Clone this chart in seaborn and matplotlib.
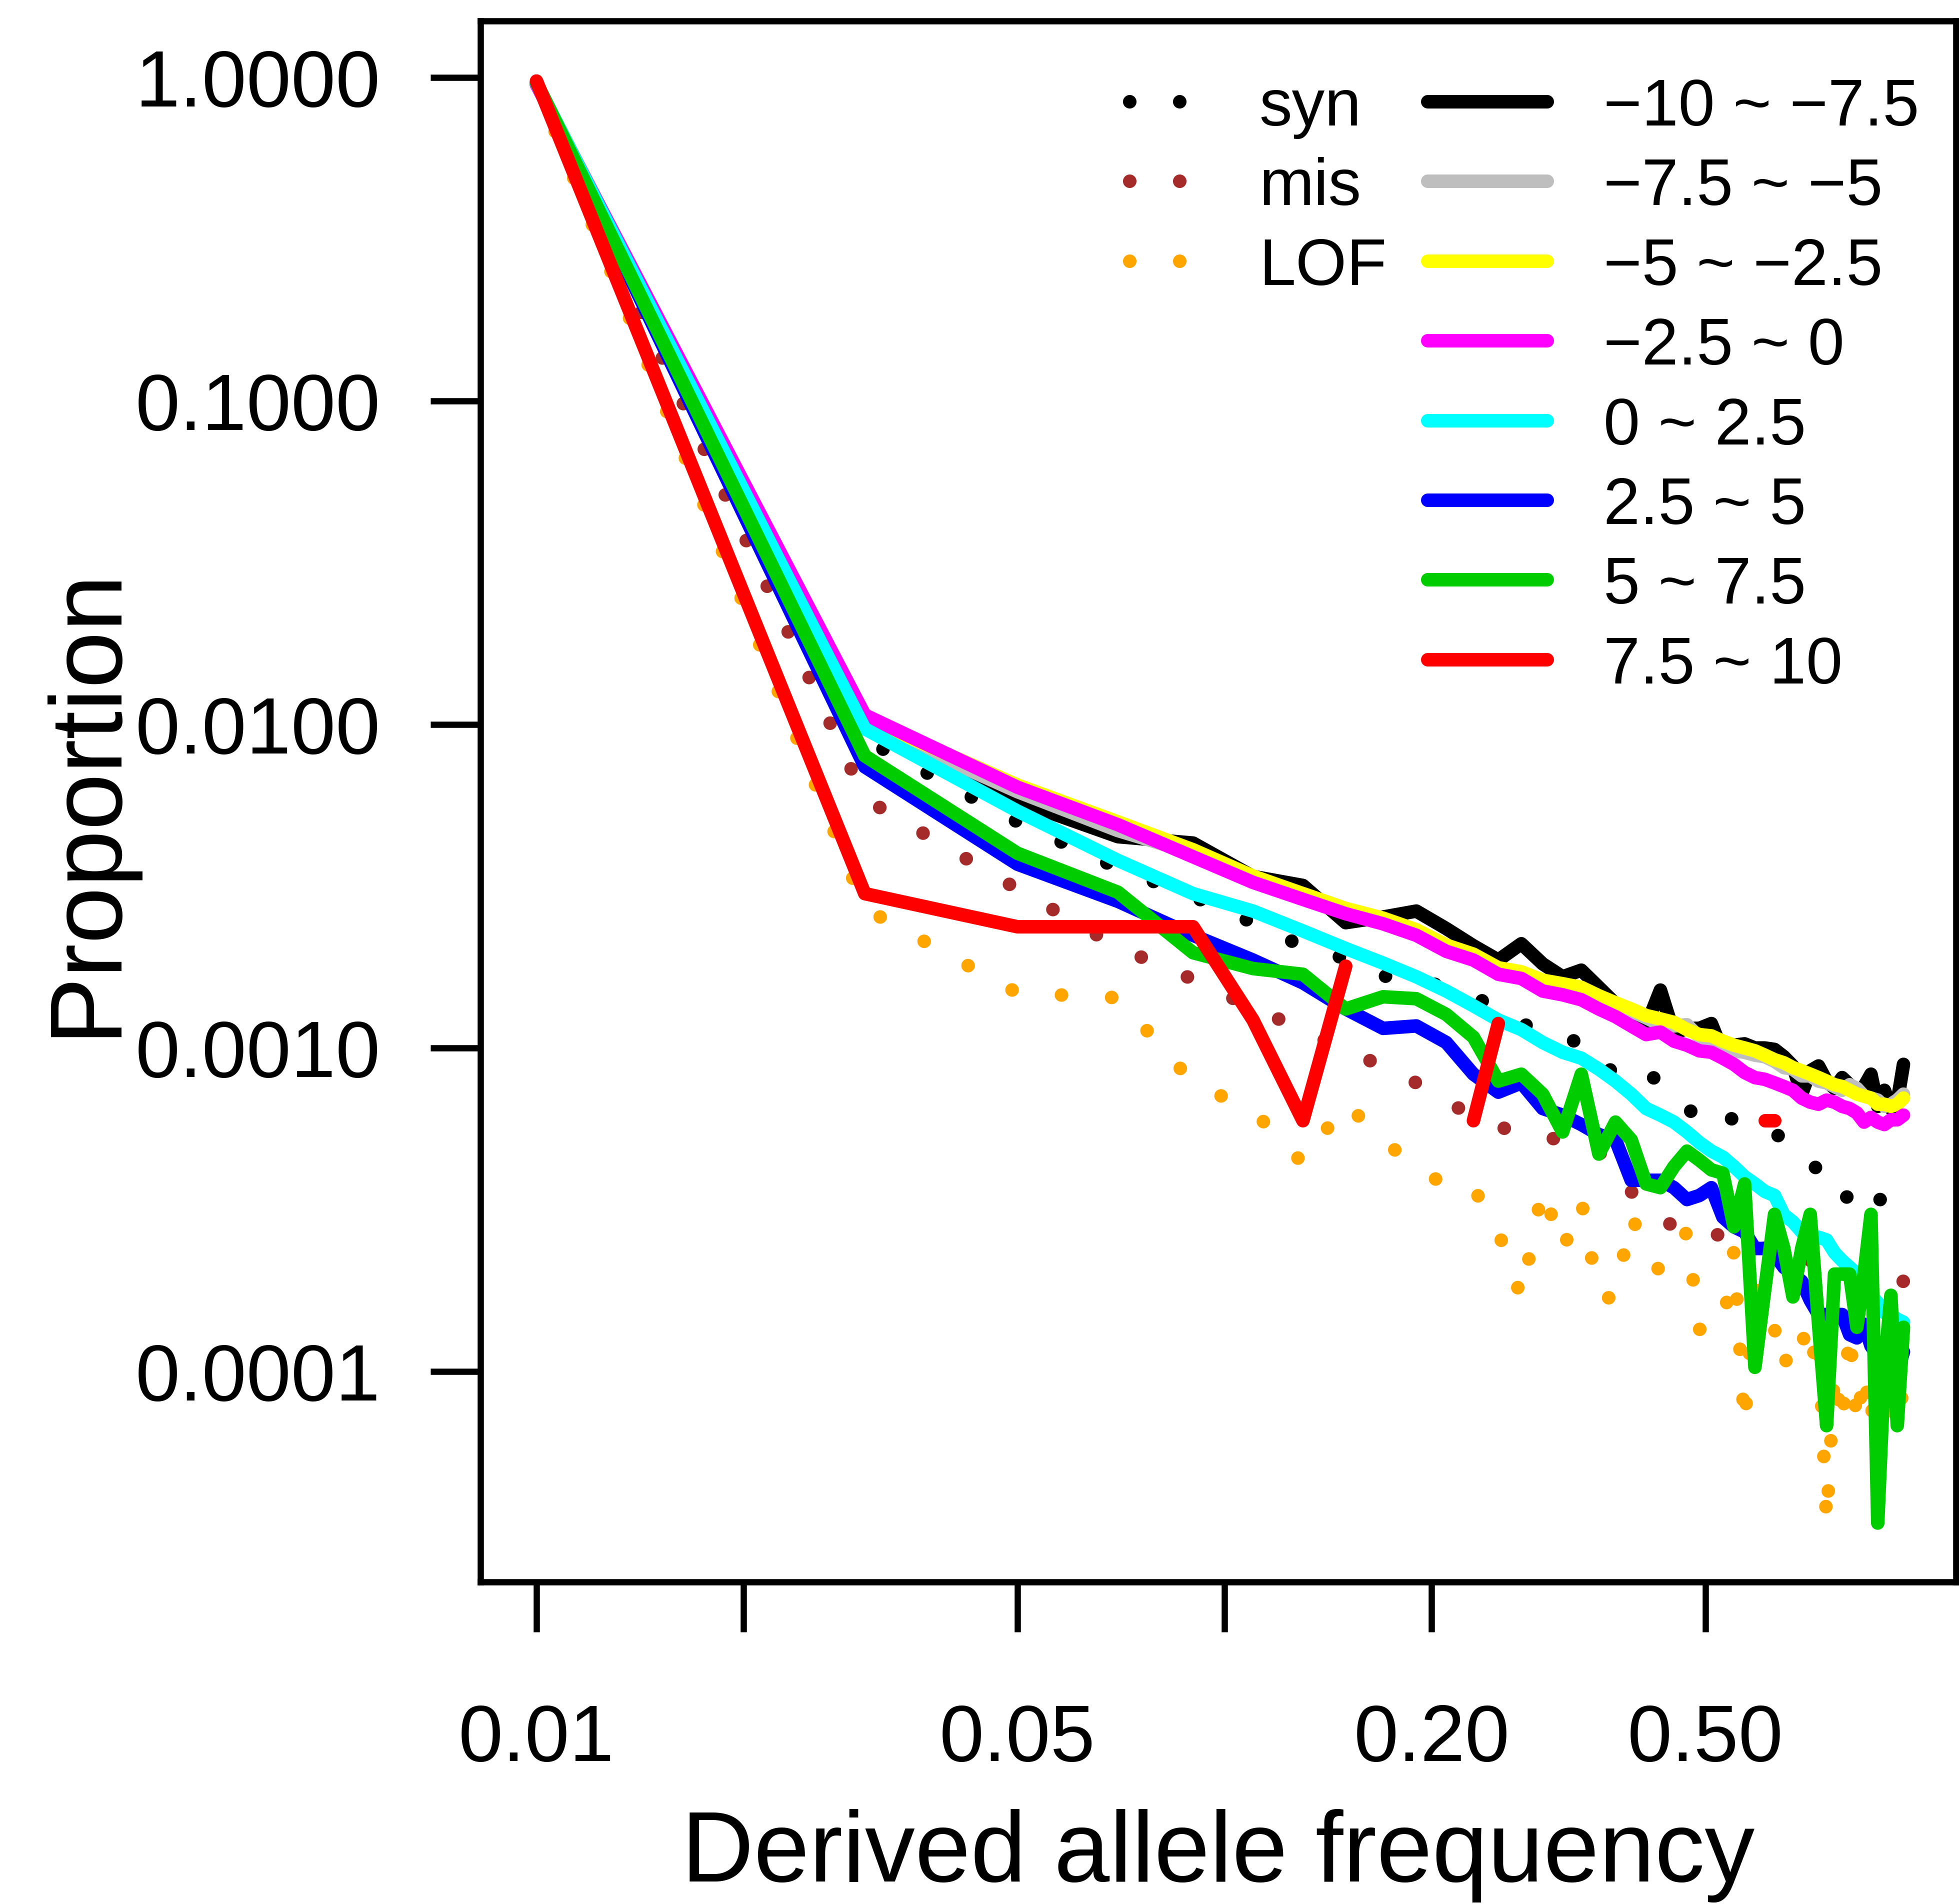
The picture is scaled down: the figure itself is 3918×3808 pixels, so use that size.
import numpy as np
import pandas as pd
import matplotlib
matplotlib.use("Agg")
import matplotlib.pyplot as plt
from matplotlib.ticker import NullLocator
import seaborn as sns

# derived allele frequency bins (x)
freq = [0.01, 0.03, 0.05, 0.07, 0.09, 0.11, 0.13, 0.15, 0.17, 0.19,
        0.21, 0.23, 0.25, 0.27, 0.29, 0.31, 0.33, 0.35, 0.37, 0.39,
        0.41, 0.43, 0.45, 0.47, 0.49, 0.51, 0.53, 0.55, 0.57, 0.59,
        0.61, 0.63, 0.65, 0.67, 0.69, 0.71, 0.73, 0.75, 0.77, 0.79,
        0.81, 0.83, 0.85, 0.87, 0.89, 0.91, 0.93, 0.95, 0.97]
nan = np.nan

# dotted series: variant classes
syn = [0.955, 0.0090, 0.0050, 0.0036, 0.00294, 0.00244, 0.00206, 0.00189, 0.00167, 0.00163,
       0.00154, 0.00145, 0.00131, 0.00119, 0.00113, 0.00107, 0.00104, 0.00099, 0.00080, 0.00082,
       0.00083, 0.00079, 0.00072, 0.00066, 0.00059, 0.00063, 0.00062, 0.00060, 0.00058, 0.00058,
       0.00056, 0.00054, 0.00053, 0.00051, 0.00047, 0.00044, 0.00042, 0.00041, 0.00035, 0.00034,
       0.00035, 0.00037, 0.00039, 0.00036, 0.00034, 0.00034, 0.00034, 0.00036, 0.00036]
mis = [0.955, 0.0059, 0.0031, 0.00205, 0.00163, 0.00133, 0.00114, 0.00098, 0.00088, 0.00078,
       0.00068, 0.00062, 0.00057, 0.00055, 0.00053, 0.00052, 0.00051, 0.00048, 0.00040, 0.00036,
       0.00032, 0.00030, 0.00028, 0.00028, 0.00027, 0.00027, 0.00026, 0.00026, 0.00025, 0.00025,
       0.00024, 0.00024, 0.00023, 0.00023, 0.00023, 0.00022, 0.00022, 0.00021, 0.00021, 0.00021,
       0.00020, 0.00020, 0.00020, 0.00020, 0.00019, 0.00019, 0.00019, 0.00019, 0.00019]
lof = [0.95, 0.0027, 0.00148, 0.00143, 0.00078, 0.00064, 0.00044, 0.00068, 0.00051, 0.00044,
       0.00037, 0.00037, 0.00027, 0.000169, 0.00037, 0.000236, 0.000338, 0.000169, 0.000169, 0.000304,
       0.000236, 0.000203, 0.000236, 0.00027, 0.000135, 0.000135, 0.000135, 0.000236, 0.0000676, 0.000203,
       0.000135, 0.000135, 0.000101, 0.000135, 0.000135, 0.000101, 0.000135, 0.0000338, 0.000101, 0.0000676,
       0.000135, 0.0000676, 0.000101, 0.0000676, 0.000135, 0.0000676, 0.0000676, 0.000135, 0.0000676]

# solid series: score bins
bin_m10 = [0.955, 0.0099, 0.0058, 0.0045, 0.0043, 0.00339, 0.00318, 0.00244, 0.00254, 0.00265,
           0.00234, 0.00207, 0.00187, 0.00210, 0.00182, 0.00166, 0.00174, 0.00154, 0.00137, 0.00131,
           0.00117, 0.00151, 0.00111, 0.00115, 0.00115, 0.00119, 0.00097, 0.00102, 0.00103, 0.00100,
           0.00100, 0.00099, 0.00094, 0.00088, 0.00072, 0.00085, 0.00088, 0.00079, 0.00075, 0.00081,
           0.00077, 0.00073, 0.00076, 0.00083, 0.00066, 0.00074, 0.00065, 0.00068, 0.00089]
bin_m75 = [0.96, 0.0101, 0.0062, 0.0047, 0.0040, 0.0033, 0.0030, 0.0027, 0.00248, 0.00228,
           0.00205, 0.00192, 0.00174, 0.00170, 0.00160, 0.00153, 0.00150, 0.00142, 0.00135, 0.00130,
           0.00124, 0.00118, 0.00117, 0.00118, 0.00108, 0.00106, 0.00100, 0.00098, 0.00097, 0.00095,
           0.00094, 0.00091, 0.00087, 0.00086, 0.00082, 0.00082, 0.00079, 0.00078, 0.00076, 0.00074,
           0.00077, 0.00075, 0.00071, 0.00070, 0.00069, 0.00066, 0.00067, 0.00069, 0.00072]
bin_m5 = [0.955, 0.0105, 0.0065, 0.0050, 0.0041, 0.0034, 0.0030, 0.0027, 0.00252, 0.00232,
          0.00208, 0.00195, 0.00177, 0.00172, 0.00162, 0.00158, 0.00154, 0.00145, 0.00138, 0.00132,
          0.00126, 0.00123, 0.00120, 0.00114, 0.00110, 0.00109, 0.00105, 0.00102, 0.00100, 0.00098,
          0.00095, 0.00092, 0.00090, 0.00087, 0.00085, 0.00083, 0.00081, 0.00079, 0.00077, 0.00076,
          0.00074, 0.00072, 0.00071, 0.00070, 0.00067, 0.00067, 0.00066, 0.00067, 0.00070]
bin_m25 = [0.95, 0.0107, 0.0064, 0.0049, 0.0039, 0.00325, 0.00288, 0.00260, 0.00242, 0.00223,
           0.00199, 0.00187, 0.00169, 0.00164, 0.00150, 0.00146, 0.00141, 0.00132, 0.00125, 0.00117,
           0.00110, 0.00112, 0.00105, 0.00102, 0.00098, 0.00097, 0.00093, 0.00089, 0.00084, 0.00081,
           0.00080, 0.00078, 0.00076, 0.00074, 0.00070, 0.00068, 0.00067, 0.00069, 0.00068, 0.00066,
           0.00065, 0.00063, 0.00059, 0.00061, 0.00059, 0.00058, 0.00060, 0.00060, 0.00062]
bin_0 = [0.96, 0.0097, 0.0054, 0.0038, 0.00300, 0.00265, 0.00230, 0.00203, 0.00183, 0.00166,
         0.00150, 0.00135, 0.00122, 0.00114, 0.00104, 0.00097, 0.00093, 0.00086, 0.00079, 0.00072,
         0.00065, 0.00062, 0.00059, 0.00055, 0.00051, 0.00048, 0.00046, 0.00043, 0.00040, 0.00038,
         0.00036, 0.00035, 0.000305, 0.00029, 0.00027, 0.00026, 0.00026, 0.000255, 0.000233, 0.00022,
         0.00021, 0.00020, 0.00018, 0.000172, 0.000163, 0.000152, 0.000150, 0.000145, 0.000142]
bin_25 = [0.965, 0.0074, 0.0037, 0.00284, 0.00223, 0.00187, 0.00159, 0.00132, 0.00115, 0.00117,
          0.00104, 0.00083, 0.00073, 0.00078, 0.00065, 0.00062, 0.00058, 0.00054, 0.00052, 0.00039,
          0.00039, 0.00039, 0.00037, 0.00034, 0.00035, 0.00037, 0.00030, 0.00028, 0.00027, 0.00024,
          0.00024, 0.00023, 0.00021, 0.00020, 0.00019, 0.000166, 0.00015, 0.00015, 0.00015, 0.00015,
          0.00013, 0.000127, 0.00014, 0.00012, 0.000112, 0.000087, 0.00010, 0.00010, 0.000115]
bin_5 = [0.965, 0.0080, 0.0040, 0.00303, 0.00197, 0.00176, 0.00169, 0.00132, 0.00144, 0.00142,
         0.00127, 0.00108, 0.00079, 0.00083, 0.00072, 0.00055, 0.00083, 0.00047, 0.00059, 0.00052,
         0.00038, 0.00037, 0.00043, 0.00048, 0.00045, 0.00042, 0.00041, 0.00028, 0.00038, 0.000103,
         0.00018, 0.000306, 0.00024, 0.00017, 0.00024, 0.000306, 0.00014, 0.000068, 0.00020, 0.00020,
         0.00020, 0.000137, 0.00020, 0.000306, 0.000034, 0.000102, 0.000172, 0.000068, 0.000137]
bin_75 = [0.975, 0.0030, 0.00237, 0.00237, 0.00237, 0.00122, 0.000596, 0.00179, nan, nan,
          nan, 0.000596, 0.00119, nan, nan, nan, nan, nan, nan, nan,
          nan, nan, nan, nan, nan, nan, nan, nan, nan, nan,
          0.000596, 0.000596, nan, nan, nan, nan, nan, nan, nan, nan,
          nan, nan, nan, nan, nan, nan, nan, nan, nan]

type_labels = ["syn", "mis", "LOF"]
type_colors = ["black", "#A52A2A", "#FFA500"]
bin_labels = ["\u221210 ~ \u22127.5", "\u22127.5 ~ \u22125", "\u22125 ~ \u22122.5", "\u22122.5 ~ 0",
              "0 ~ 2.5", "2.5 ~ 5", "5 ~ 7.5", "7.5 ~ 10"]
bin_colors = ["black", "#BEBEBE", "#FFFF00", "#FF00FF", "#00FFFF", "#0000FF", "#00CD00", "#FF0000"]

xticks = [0.01, 0.02, 0.05, 0.1, 0.2, 0.5]
xticklabels = ["0.01", "", "0.05", "", "0.20", "0.50"]
yticks = [1.0, 0.1, 0.01, 0.001, 0.0001]
yticklabels = ["1.0000", "0.1000", "0.0100", "0.0010", "0.0001"]

sns.set_style("white")
plt.rcParams["font.family"] = ["Liberation Sans", "DejaVu Sans"]
plt.rcParams.update({"text.color": "black", "axes.labelcolor": "black",
                     "xtick.color": "black", "ytick.color": "black"})

LW = 6.5


def draw(ax, values, color, dotted=False):
    df = pd.DataFrame({"freq": freq, "prop": values})
    # NA bins leave a gap in the line (like R), so split into pieces
    df["piece"] = df["prop"].isna().cumsum()
    df = df.dropna()
    kw = dict(color=color, linewidth=LW, solid_capstyle="round", solid_joinstyle="round")
    if dotted:
        kw.update(linestyle=(0, (0.01, 3.7)), dash_capstyle="round", dash_joinstyle="round")
    sns.lineplot(data=df, x="freq", y="prop", units="piece", estimator=None,
                 sort=False, legend=False, ax=ax, **kw)


fig = plt.figure(figsize=(3918 / 300, 3808 / 300), dpi=300)
ax = fig.add_axes([961 / 3918, 1 - 3164 / 3808, 2951 / 3918, 3122 / 3808])

for vals, col in zip([syn, mis, lof], type_colors):
    draw(ax, vals, col, dotted=True)
for vals, col in zip([bin_m10, bin_m75, bin_m5, bin_m25, bin_0, bin_25, bin_5, bin_75], bin_colors):
    draw(ax, vals, col)

ax.set_xscale("log")
ax.set_yscale("log")
ax.set_xlim(0.008291, 1.1564)
ax.set_ylim(2.235e-5, 1.4951)
ax.xaxis.set_minor_locator(NullLocator())
ax.yaxis.set_minor_locator(NullLocator())
ax.set_xticks(xticks)
ax.set_xticklabels(xticklabels)
ax.set_yticks(yticks)
ax.set_yticklabels(yticklabels)
ax.tick_params(axis="both", which="major", bottom=True, left=True, top=False, right=False,
               direction="out", length=24, width=3, labelsize=38.5,
               color="black", labelcolor="black")
ax.tick_params(axis="x", pad=34)
ax.tick_params(axis="y", pad=24)
for sp in ax.spines.values():
    sp.set_visible(True)
    sp.set_linewidth(3)
    sp.set_color("black")

ax.set_xlabel("Derived allele frequency", fontsize=48, color="black")
ax.xaxis.label.set_verticalalignment("baseline")
ax.xaxis.set_label_coords(0.5, -0.1919)
ax.set_ylabel("Proportion", fontsize=49, color="black")
ax.yaxis.label.set_verticalalignment("baseline")
ax.yaxis.set_label_coords(-0.2487, 0.5)


# legends, laid out in axes fractions (R style, no frame)
def yfrac(ypix):
    return 1 - (ypix - 42) / 3122


def xfrac(xpix):
    return (xpix - 961) / 2951


row0, pitch = 203, 159.4
for i, (lab, col) in enumerate(zip(type_labels, type_colors)):
    yy = yfrac(row0 + i * pitch)
    ax.plot([xfrac(2259), xfrac(2359)], [yy, yy], transform=ax.transAxes, linestyle="none",
            marker="o", markersize=LW, color=col, markeredgewidth=0, clip_on=False)
    ax.text(xfrac(2518), yy, lab, transform=ax.transAxes, fontsize=31.5, color="black",
            va="center_baseline", ha="left")
for i, (lab, col) in enumerate(zip(bin_labels, bin_colors)):
    yy = yfrac(row0 + i * pitch)
    ax.plot([xfrac(2855), xfrac(3094)], [yy, yy], transform=ax.transAxes, color=col,
            linewidth=LW, solid_capstyle="round", clip_on=False)
    ax.text(xfrac(3207), yy, lab, transform=ax.transAxes, fontsize=31.5, color="black",
            va="center_baseline", ha="left")

fig.savefig("out.png", dpi=300)
